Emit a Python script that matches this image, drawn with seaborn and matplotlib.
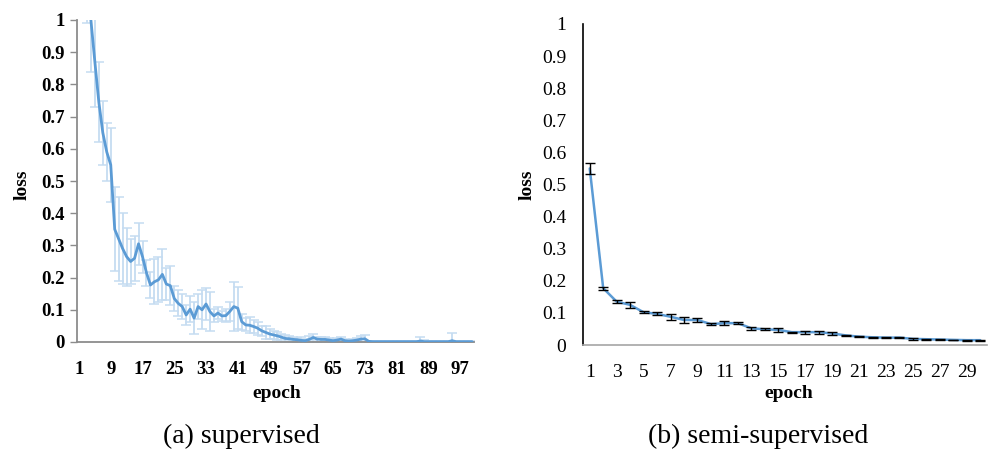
import numpy as np
import pandas as pd
import seaborn as sns
from matplotlib import pyplot as plt
from matplotlib.ticker import FixedLocator

# (a) supervised: mean loss and error per epoch (1..100)
sup_loss = [1.60, 1.35, 1.15, 1.00, 0.87, 0.745, 0.65, 0.59, 0.55, 0.35,
            0.32, 0.29, 0.265, 0.25, 0.26, 0.305, 0.265, 0.215, 0.177, 0.187,
            0.193, 0.21, 0.18, 0.175, 0.135, 0.12, 0.11, 0.084, 0.102, 0.074,
            0.11, 0.10, 0.118, 0.094, 0.081, 0.09, 0.081, 0.082, 0.095, 0.11,
            0.105, 0.063, 0.053, 0.052, 0.048, 0.043, 0.035, 0.03, 0.025, 0.022,
            0.019, 0.015, 0.011, 0.01, 0.008, 0.007, 0.005, 0.004, 0.008, 0.014,
            0.009, 0.008, 0.008, 0.006, 0.004, 0.006, 0.009, 0.004, 0.003, 0.004,
            0.006, 0.009, 0.01, 0.002, 0.001, 0.001, 0.001, 0.001, 0.001, 0.001,
            0.001, 0.001, 0.001, 0.001, 0.001, 0.001, 0.003, 0.001, 0.001, 0.001,
            0.001, 0.001, 0.001, 0.001, 0.004, 0.001, 0.001, 0.001, 0.001, 0.001]
sup_err = [0.16, 0.16, 0.16, 0.16, 0.14, 0.125, 0.10, 0.09, 0.115, 0.13,
           0.13, 0.11, 0.09, 0.07, 0.07, 0.065, 0.05, 0.04, 0.04, 0.07,
           0.07, 0.08, 0.05, 0.06, 0.04, 0.04, 0.04, 0.03, 0.04, 0.05,
           0.04, 0.06, 0.05, 0.06, 0.02, 0.02, 0.015, 0.02, 0.03, 0.075,
           0.065, 0.025, 0.02, 0.025, 0.02, 0.02, 0.015, 0.02, 0.015, 0.012,
           0.012, 0.01, 0.01, 0.008, 0.008, 0.006, 0.01, 0.006, 0.01, 0.012,
           0.008, 0.008, 0.006, 0.005, 0.004, 0.006, 0.008, 0.004, 0.003, 0.004,
           0.005, 0.01, 0.012, 0.002, 0.001, 0.001, 0.001, 0.001, 0.001, 0.001,
           0.001, 0.001, 0.001, 0.001, 0.001, 0.003, 0.012, 0.004, 0.001, 0.001,
           0.001, 0.003, 0.003, 0.001, 0.025, 0.001, 0.001, 0.001, 0.001, 0.001]

# (b) semi-supervised: mean loss and error per epoch (1..30)
semi_loss = [0.55, 0.177, 0.135, 0.125, 0.102, 0.097, 0.088, 0.078, 0.078, 0.065,
             0.068, 0.068, 0.052, 0.049, 0.047, 0.04, 0.04, 0.04, 0.036, 0.03,
             0.026, 0.024, 0.023, 0.023, 0.019, 0.018, 0.017, 0.016, 0.015, 0.015]
semi_err = [0.018, 0.005, 0.004, 0.01, 0.003, 0.005, 0.009, 0.01, 0.006, 0.004,
            0.006, 0.004, 0.004, 0.003, 0.007, 0.002, 0.005, 0.005, 0.004, 0.002,
            0.002, 0.001, 0.002, 0.002, 0.002, 0.001, 0.001, 0.001, 0.001, 0.002]

y_ticks = [0, 0.1, 0.2, 0.3, 0.4, 0.5, 0.6, 0.7, 0.8, 0.9, 1]
y_tick_labels = ['0', '0.1', '0.2', '0.3', '0.4', '0.5', '0.6', '0.7', '0.8', '0.9', '1']

sup = pd.DataFrame({'epoch': np.arange(1, len(sup_loss) + 1), 'loss': sup_loss, 'err': sup_err})
semi = pd.DataFrame({'epoch': np.arange(1, len(semi_loss) + 1), 'loss': semi_loss, 'err': semi_err})

sns.set_theme(style="white")
plt.rcParams['font.family'] = ['Liberation Serif', 'DejaVu Serif']
plt.rcParams['text.color'] = 'black'
plt.rcParams['axes.labelcolor'] = 'black'
plt.rcParams['xtick.labelcolor'] = 'black'
plt.rcParams['ytick.labelcolor'] = 'black'

W, H = 989, 449
fig = plt.figure(figsize=(W / 100, H / 100), dpi=100)

def px_axes(x0, x1, ytop, ybot):
    return fig.add_axes([x0 / W, (H - ybot) / H, (x1 - x0) / W, (ybot - ytop) / H])

blue = '#5b9bd5'
gray = '#8c8c8c'

# ---- (a) supervised ----
ax1 = px_axes(77, 474, 20, 342)
ax1.errorbar(sup['epoch'], sup['loss'], yerr=sup['err'], fmt='none',
             ecolor='#c5dcf1', elinewidth=1.3, capsize=3.5, capthick=1.1, zorder=1)
sns.lineplot(data=sup, x='epoch', y='loss', ax=ax1, color=blue, linewidth=2.0, zorder=3)
ax1.set_xlim(0.5, len(sup_loss) + 0.5)
ax1.set_ylim(0, 1)
ax1.set_yticks(y_ticks)
ax1.set_yticklabels(y_tick_labels, fontsize=13.5, fontweight='bold')
ax1.set_xticks(np.arange(1, 101, 8))
ax1.set_xticklabels([str(v) for v in range(1, 101, 8)], fontsize=13.5, fontweight='bold')
ax1.xaxis.set_minor_locator(FixedLocator(np.arange(0.5, 101, 1)))
ax1.tick_params(axis='x', which='major', length=0, pad=14)
ax1.tick_params(axis='x', which='minor', length=5, width=1, color='#a6a6a6', direction='out')
ax1.tick_params(axis='y', which='major', length=5, width=1, color=gray, direction='out', pad=4, left=True)
for s in ['top', 'right']:
    ax1.spines[s].set_visible(False)
for s in ['left', 'bottom']:
    ax1.spines[s].set_color(gray)
    ax1.spines[s].set_linewidth(1.3)
ax1.set_xlabel('epoch', fontsize=14, fontweight='bold')
ax1.set_ylabel('loss', fontsize=14, fontweight='bold')
ax1.xaxis.set_label_coords((277 - 77) / 397, (342 - 393) / 322)
ax1.xaxis.label.set_va('center')
ax1.yaxis.set_label_coords((22 - 77) / 397, (342 - 185) / 322)
ax1.yaxis.label.set_va('center')

# ---- (b) semi-supervised ----
ax2 = px_axes(583, 987, 24, 345)
ax2.errorbar(semi['epoch'], semi['loss'], yerr=semi['err'], fmt='none',
             ecolor='black', elinewidth=1.0, capsize=3.5, capthick=1.0, zorder=4)
sns.lineplot(data=semi, x='epoch', y='loss', ax=ax2, color=blue, linewidth=1.8, zorder=3)
ax2.set_xlim(0.5, len(semi_loss) + 0.5)
ax2.set_ylim(0, 1)
ax2.set_yticks(y_ticks)
ax2.set_yticklabels(y_tick_labels, fontsize=14)
ax2.set_xticks(np.arange(1, 31, 2))
ax2.set_xticklabels([str(v) for v in range(1, 31, 2)], fontsize=14)
ax2.xaxis.set_minor_locator(FixedLocator(np.arange(0.5, 31, 1)))
ax2.tick_params(axis='x', which='major', length=0, pad=14)
ax2.tick_params(axis='x', which='minor', length=7, width=1, color='#a6a6a6', direction='out')
ax2.tick_params(axis='y', which='major', length=0, pad=12)
for s in ['top', 'right']:
    ax2.spines[s].set_visible(False)
ax2.spines['left'].set_color('black')
ax2.spines['left'].set_linewidth(1.2)
ax2.spines['bottom'].set_color('#a6a6a6')
ax2.spines['bottom'].set_linewidth(1.2)
ax2.set_xlabel('epoch', fontsize=14, fontweight='bold')
ax2.set_ylabel('loss', fontsize=14, fontweight='bold')
ax2.xaxis.set_label_coords((789 - 583) / 404, (345 - 393) / 321)
ax2.xaxis.label.set_va('center')
ax2.yaxis.set_label_coords((527 - 583) / 404, (345 - 185) / 321)
ax2.yaxis.label.set_va('center')

# captions
fig.text(241 / W, 1 - 436 / H, '(a) supervised', ha='center', va='center', fontsize=20)
fig.text(758 / W, 1 - 436 / H, '(b) semi-supervised', ha='center', va='center', fontsize=20)

fig.savefig('out.png', dpi=100)
